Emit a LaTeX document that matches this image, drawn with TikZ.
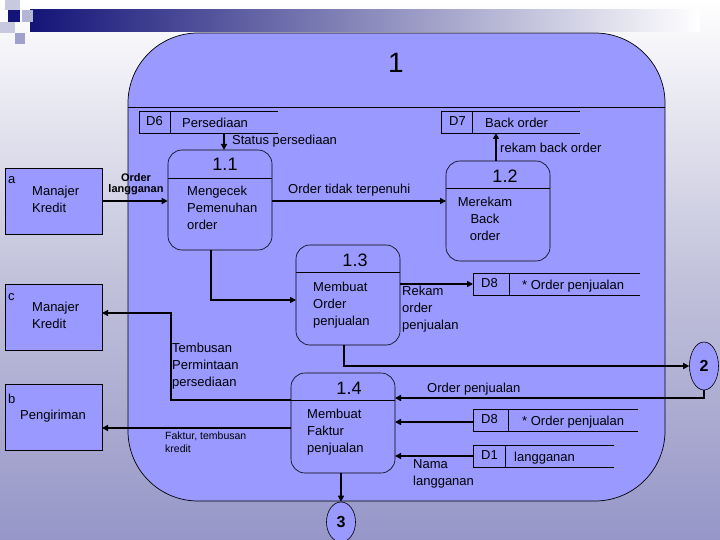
\documentclass[tikz,border=0pt]{standalone}
\usepackage{fontspec}
\setmainfont{Liberation Sans}
\usetikzlibrary{arrows.meta,shapes.geometric}
\definecolor{pfill}{RGB}{153,153,255}
\definecolor{bgbot}{RGB}{150,150,200}
\definecolor{bgmid}{RGB}{195,195,220}
\definecolor{navy}{RGB}{20,20,120}
\definecolor{sqa}{RGB}{200,200,225}
\definecolor{sqb}{RGB}{180,180,215}
\definecolor{sqc}{RGB}{160,160,205}
\begin{document}
\begin{tikzpicture}[x=1pt,y=-1pt,
  proc/.style={draw,fill=pfill,rounded corners=14pt,minimum width=104pt,minimum height=100pt,inner sep=0pt,line width=0.6pt},
  ent/.style={draw,fill=pfill,minimum width=97pt,minimum height=66pt,inner sep=0pt,line width=0.6pt},
  lbl/.style={font=\fontsize{13}{17}\selectfont,align=left,inner sep=0pt,anchor=north west},
  num/.style={font=\fontsize{18}{19}\selectfont,inner sep=0pt},
  flow/.style={line width=1.8pt,-{Triangle[length=6pt,width=6pt]}},
  sto/.style={line width=0.6pt}]
\useasboundingbox (0,0) rectangle (720,540);
\shade[top color=white,bottom color=bgbot,middle color=bgmid] (0,0) rectangle (720,540);
% top bar
\shade[left color=navy,right color=white] (30,10) rectangle (700,32);
\fill[navy] (8,10) rectangle (20,22);
\fill[sqa] (5,0) rectangle (20,10);
\fill[sqb] (22,10) rectangle (33,22);
\fill[sqa] (0,22) rectangle (15,33);
\fill[sqc] (15,33) rectangle (25,44);
% big process
\node[draw,fill=pfill,rounded corners=70pt,minimum width=537pt,minimum height=468pt,inner sep=0pt,line width=0.7pt] (big) at (396.5,267) {};
\draw[line width=0.7pt] (128,107) -- (665,107);
\node[font=\fontsize{28}{29}\selectfont] (t1) at (396,63) {1};
% entities
\node[ent] (ea) at (53.5,201) {};
\node[lbl] at (8,176) {a};
\node[lbl] at (32,186) {Manajer\\Kredit};
\node[ent] (ec) at (53.5,317.5) {};
\node[lbl] at (8,293) {c};
\node[lbl] at (32,302) {Manajer\\Kredit};
\node[ent] (eb) at (53.5,417.5) {};
\node[lbl] at (8,394) {b};
\node[lbl] at (20,410) {Pengiriman};
% stores
\draw[sto] (278,111) -- (139,111) -- (139,133) -- (278,133) (170,111) -- (170,133);
\node[lbl] (d6) at (146,116) {D6};
\node[lbl] at (182,118) {Persediaan};
\draw[sto] (580,111) -- (441,111) -- (441,133) -- (580,133) (472,111) -- (472,133);
\node[lbl] (d7) at (449,116) {D7};
\node[lbl] at (485,118) {Back order};
\draw[sto] (640,273) -- (473,273) -- (473,295) -- (640,295) (509,273) -- (509,295);
\node[lbl] (d8a) at (481,278) {D8};
\node[lbl] at (522,280) {* Order penjualan};
\draw[sto] (638,409) -- (473,409) -- (473,431) -- (638,431) (508,409) -- (508,431);
\node[lbl] (d8b) at (481,414) {D8};
\node[lbl] at (522,416) {* Order penjualan};
\draw[sto] (614,445) -- (473,445) -- (473,467) -- (614,467) (505,445) -- (505,467);
\node[lbl] (d1) at (481,450) {D1};
\node[lbl] at (514,452) {langganan};
% processes
\node[proc] (p11) at (220,200) {};
\draw[sto] (168,178) -- (272,178);
\node[num] at (225,164) {1.1};
\node[lbl] at (187,186) {Mengecek\\Pemenuhan\\order};
\node[proc] (p12) at (498,211) {};
\draw[sto] (446,188) -- (550,188);
\node[num] at (505,176) {1.2};
\node[lbl,align=center,anchor=north] at (485,197) {Merekam\\Back\\order};
\node[proc] (p13) at (348,295) {};
\draw[sto] (296,272) -- (400,272);
\node[num] at (355,260) {1.3};
\node[lbl] at (313,282) {Membuat\\Order\\penjualan};
\node[proc] (p14) at (343,423) {};
\draw[sto] (291,400) -- (395,400);
\node[num] at (349,388) {1.4};
\node[lbl] at (307,409) {Membuat\\Faktur\\penjualan};
% off-page connectors
\node[draw,fill=pfill,ellipse,minimum width=29pt,minimum height=48pt,inner sep=0pt,line width=0.6pt,font=\bfseries\fontsize{16}{17}\selectfont] (c2) at (704,366) {2};
\node[draw,fill=pfill,ellipse,minimum width=29pt,minimum height=40pt,inner sep=0pt,line width=0.6pt,font=\bfseries\fontsize{16}{17}\selectfont] (c3) at (341,522) {3};
% flows
\draw[flow] (102,201) -- (p11.west |- 0,201);
\node[font=\bfseries\fontsize{11}{11}\selectfont,align=center,inner sep=0pt] at (136,184) {Order\\langganan};
\draw[flow] (224,133) -- (224,150);
\node[lbl] at (232,135) {Status persediaan};
\draw[flow] (272,201) -- (446,201);
\node[lbl] at (288,184) {Order tidak terpenuhi};
\draw[flow] (496,161) -- (496,133);
\node[lbl] at (500,143) {rekam back order};
\draw[flow] (211,250) -- (211,300) -- (296,300);
\draw[flow] (400,284) -- (473,284);
\node[lbl] at (402,286) {Rekam\\order\\penjualan};
\draw[flow] (344,345) -- (344,366) -- (c2.west);
\draw[flow] (c2.south) -- (704,398) -- (395,398);
\node[lbl] at (427,383) {Order penjualan};
\draw[flow] (473,422) -- (395,422);
\draw[flow] (473,456) -- (395,456);
\node[lbl] at (413,459) {Nama\\langganan};
\draw[flow] (291,428) -- (102,428);
\node[lbl,font=\fontsize{10.5}{13}\selectfont] at (165,432) {Faktur, tembusan\\kredit};
\draw[flow,line width=1.2pt] (291,400) -- (171,400) -- (171,313) -- (102,313);
\node[lbl] at (172,343) {Tembusan\\Permintaan\\persediaan};
\draw[flow] (341,473) -- (c3.north);
\end{tikzpicture}
\end{document}
